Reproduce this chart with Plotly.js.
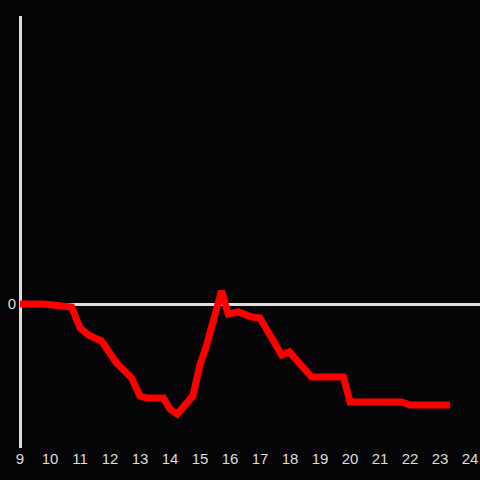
<!DOCTYPE html>
<html>
<head>
<meta charset="utf-8">
<script src="https://cdn.plot.ly/plotly-3.0.1.min.js"></script>
<style>html,body{margin:0;padding:0;background:#050407;}</style>
</head>
<body>
<div id="chart" style="width:480px;height:480px;"></div>
<script>
const hours = [9, 9.78, 10.72, 11.0, 11.28, 11.72, 12.22, 12.72, 13.0, 13.22, 13.78, 14.0, 14.24, 14.76, 15.0, 15.22, 15.72, 15.94, 16.28, 16.72, 17.0, 17.72, 17.98, 18.72, 19.78, 20.0, 21.72, 22.0, 23.33];
const values = [0, 0, -3, -24, -31, -37, -59, -74, -92, -94, -94, -105, -110, -92, -61, -41, 13, -10, -8, -13, -14, -51, -48, -73, -73, -98, -98, -101, -101];
const xTicks = [9,10,11,12,13,14,15,16,17,18,19,20,21,22,23,24];

Plotly.newPlot('chart', [{
  x: hours, y: values, type: 'scatter', mode: 'lines',
  line: {color: '#ff0000', width: 7},
  hoverinfo: 'none'
}], {
  width: 480, height: 480,
  paper_bgcolor: '#050407', plot_bgcolor: '#050407',
  margin: {l: 20, r: 0, t: 16, b: 32, pad: 0},
  showlegend: false,
  font: {family: 'Liberation Sans, Arial, sans-serif', size: 15, color: '#dddddd'},
  shapes: [{type: 'line', xref: 'paper', yref: 'paper', x0: 0.5/460, x1: 0.5/460, y0: 0, y1: 1,
            line: {color: '#dddddd', width: 3}, layer: 'below'}],
  xaxis: {range: [9, 24.333], tickvals: xTicks, ticktext: xTicks.map(String),
          showgrid: false, zeroline: false, showline: false, ticks: '', fixedrange: true},
  yaxis: {range: [-144, 288], tickvals: [0], ticktext: ['0'], showgrid: false,
          zeroline: true, zerolinecolor: '#dddddd', zerolinewidth: 3,
          showline: false, ticks: '', ticklabelstandoff: 3, fixedrange: true}
}, {displayModeBar: false, staticPlot: true});
</script>
</body>
</html>
